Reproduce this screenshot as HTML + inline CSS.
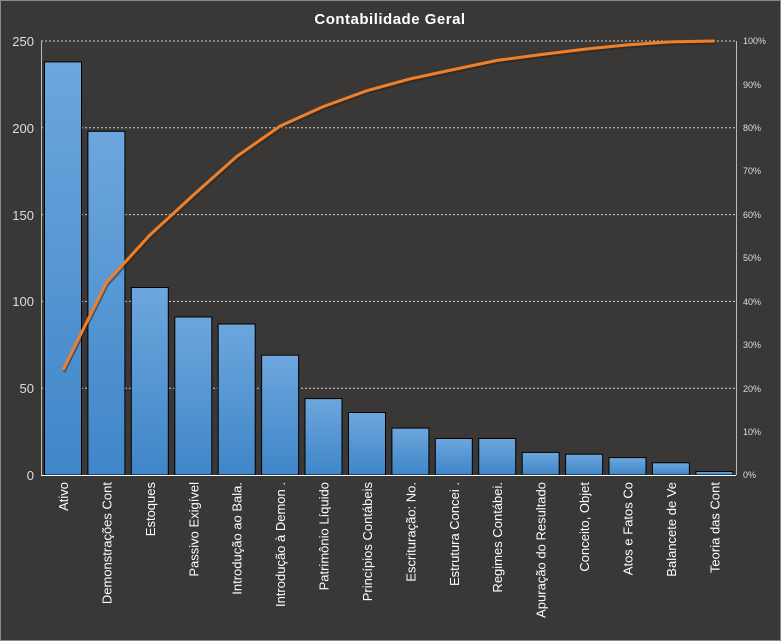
<!DOCTYPE html>
<html><head><meta charset="utf-8"><style>
html,body{margin:0;padding:0;background:#3a3836;}
svg{display:block;font-family:"Liberation Sans","DejaVu Sans",sans-serif;}
</style></head><body>
<svg width="781" height="641" viewBox="0 0 781 641" xmlns="http://www.w3.org/2000/svg">
<defs>
<linearGradient id="g" x1="0" y1="0" x2="0" y2="1">
<stop offset="0" stop-color="#6da6dd"/><stop offset="1" stop-color="#3f86c8"/>
</linearGradient>
</defs>
<rect x="0.5" y="0.5" width="780" height="640" fill="#3a3836" stroke="#8a8a8a"/>
<text x="390" y="24" fill="#fff" font-size="15" font-weight="bold" text-anchor="middle" letter-spacing="0.5">Contabilidade  Geral</text>
<g stroke="#cfcfcf" stroke-dasharray="2,2" stroke-width="1">
<line x1="41" y1="41" x2="736" y2="41"/>
<line x1="41" y1="127.8" x2="736" y2="127.8"/>
<line x1="41" y1="214.6" x2="736" y2="214.6"/>
<line x1="41" y1="301.4" x2="736" y2="301.4"/>
<line x1="41" y1="388.2" x2="736" y2="388.2"/>
</g>
<line x1="41.5" y1="41" x2="41.5" y2="475" stroke="#bbb"/>
<line x1="736.5" y1="41" x2="736.5" y2="475" stroke="#bbb"/>
<g fill="#ddd" font-size="13" text-anchor="end">
<text x="34" y="46">250</text><text x="34" y="133">200</text><text x="34" y="220">150</text><text x="34" y="306">100</text><text x="34" y="393">50</text><text x="34" y="480">0</text>
</g>
<g fill="#ddd" font-size="9">
<text x="743" y="44">100%</text><text x="743" y="88">90%</text><text x="743" y="131">80%</text><text x="743" y="174">70%</text><text x="743" y="218">60%</text><text x="743" y="261">50%</text><text x="743" y="305">40%</text><text x="743" y="348">30%</text><text x="743" y="392">20%</text><text x="743" y="435">10%</text><text x="743" y="478">0%</text>
</g>
<g fill="url(#g)" stroke="#000" stroke-width="1">
<rect x="44.5" y="61.9" width="37" height="413.1"/>
<rect x="87.9" y="131.3" width="37" height="343.7"/>
<rect x="131.3" y="287.5" width="37" height="187.5"/>
<rect x="174.8" y="317.0" width="37" height="158"/>
<rect x="218.2" y="324.0" width="37" height="151"/>
<rect x="261.6" y="355.2" width="37" height="119.8"/>
<rect x="305.0" y="398.6" width="37" height="76.4"/>
<rect x="348.5" y="412.5" width="37" height="62.5"/>
<rect x="391.9" y="428.1" width="37" height="46.9"/>
<rect x="435.3" y="438.5" width="37" height="36.5"/>
<rect x="478.7" y="438.5" width="37" height="36.5"/>
<rect x="522.2" y="452.4" width="37" height="22.6"/>
<rect x="565.6" y="454.2" width="37" height="20.8"/>
<rect x="609.0" y="457.6" width="37" height="17.4"/>
<rect x="652.4" y="462.8" width="37" height="12.2"/>
<rect x="695.9" y="471.5" width="37" height="3.5"/>
</g>
<line x1="41" y1="475.5" x2="736" y2="475.5" stroke="#fff"/>
<polyline fill="none" stroke="#222" stroke-width="3" opacity="0.5" transform="translate(1,2)" points="63,370 106.4,282.7 149.8,235.1 193.3,195.1 236.7,156.5 280.1,126.1 323.5,106.5 367,90.7 410.4,78.8 453.8,69.5 497.2,60.4 540.7,54.6 584.1,49.3 627.5,44.9 670.9,41.9 714.4,41"/>
<polyline fill="none" stroke="#f07f2a" stroke-width="3" stroke-linejoin="round" points="63,370 106.4,282.7 149.8,235.1 193.3,195.1 236.7,156.5 280.1,126.1 323.5,106.5 367,90.7 410.4,78.8 453.8,69.5 497.2,60.4 540.7,54.6 584.1,49.3 627.5,44.9 670.9,41.9 714.4,41"/>
<g fill="#fff" font-size="13" text-anchor="end">
<text transform="translate(68,482) rotate(-90)">Ativo</text>
<text transform="translate(111.4,482) rotate(-90)">Demonstrações Cont</text>
<text transform="translate(154.8,482) rotate(-90)">Estoques</text>
<text transform="translate(198.3,482) rotate(-90)">Passivo Exigível</text>
<text transform="translate(241.7,482) rotate(-90)">Introdução  ao Bala.</text>
<text transform="translate(285.1,482) rotate(-90)">Introdução  à Demon .</text>
<text transform="translate(328.5,482) rotate(-90)">Patrimônio Líquido</text>
<text transform="translate(372,482) rotate(-90)">Princípios Contábeis</text>
<text transform="translate(415.4,482) rotate(-90)">Escrituração: No.</text>
<text transform="translate(458.8,482) rotate(-90)">Estrutura Concei .</text>
<text transform="translate(502.2,482) rotate(-90)">Regimes Contábei.</text>
<text transform="translate(545.7,482) rotate(-90)">Apuração do Resultado</text>
<text transform="translate(589.1,482) rotate(-90)">Conceito, Objet</text>
<text transform="translate(632.5,482) rotate(-90)">Atos e Fatos Co</text>
<text transform="translate(675.9,482) rotate(-90)">Balancete de Ve</text>
<text transform="translate(719.4,482) rotate(-90)">Teoria das Cont</text>
</g>
</svg>
</body></html>
